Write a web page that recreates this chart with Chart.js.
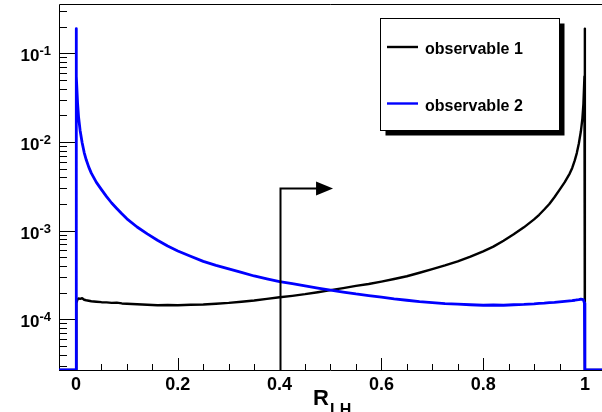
<!DOCTYPE html>
<html>
<head>
<meta charset="utf-8">
<script src="https://cdn.jsdelivr.net/npm/chart.js@4/dist/chart.umd.min.js"></script>
<style>
  html, body { margin: 0; padding: 0; background: #fff; }
</style>
</head>
<body>
<canvas id="chart" width="602" height="412"></canvas>
<script>
//-------------------- DATA --------------------
// bin centres in R_LH, finer near the edges where the distributions peak
const binCentres = [
  0.0005, 0.001, 0.003, 0.005, 0.008, 0.012, 0.016, 0.02, 0.025, 0.03,
  0.04, 0.05, 0.06, 0.07, 0.08, 0.09, 0.10, 0.12, 0.14, 0.16,
  0.18, 0.20, 0.225, 0.25, 0.275, 0.30, 0.325, 0.35, 0.375, 0.40,
  0.425, 0.45, 0.475, 0.50, 0.525, 0.55, 0.575, 0.60, 0.625, 0.65,
  0.675, 0.70, 0.725, 0.75, 0.775, 0.80, 0.82, 0.84, 0.86, 0.88,
  0.90, 0.91, 0.92, 0.93, 0.94, 0.95, 0.96, 0.97, 0.975, 0.98,
  0.984, 0.988, 0.992, 0.995, 0.997, 0.999, 0.9995
];

const observable1 = [
  1.45e-4, 1.52e-4, 1.68e-4, 1.72e-4, 1.70e-4, 1.73e-4, 1.66e-4, 1.64e-4, 1.62e-4, 1.60e-4,
  1.58e-4, 1.56e-4, 1.55e-4, 1.53e-4, 1.54e-4, 1.51e-4, 1.50e-4, 1.48e-4, 1.46e-4, 1.44e-4,
  1.45e-4, 1.44e-4, 1.46e-4, 1.47e-4, 1.50e-4, 1.53e-4, 1.58e-4, 1.63e-4, 1.70e-4, 1.77e-4,
  1.84e-4, 1.92e-4, 2.02e-4, 2.13e-4, 2.25e-4, 2.38e-4, 2.50e-4, 2.66e-4, 2.85e-4, 3.06e-4,
  3.35e-4, 3.68e-4, 4.05e-4, 4.50e-4, 5.10e-4, 5.85e-4, 6.6e-4, 7.7e-4, 9.1e-4, 1.09e-3,
  1.34e-3, 1.51e-3, 1.73e-3, 2.0e-3, 2.38e-3, 2.88e-3, 3.5e-3, 4.4e-3, 5.1e-3, 6.2e-3,
  7.5e-3, 9.6e-3, 1.32e-2, 1.85e-2, 2.7e-2, 5.5e-2, 0.19
];

const observable2 = [
  0.19, 5.5e-2, 2.75e-2, 1.9e-2, 1.35e-2, 9.8e-3, 7.6e-3, 6.3e-3, 5.2e-3, 4.45e-3,
  3.5e-3, 2.9e-3, 2.42e-3, 2.05e-3, 1.78e-3, 1.55e-3, 1.36e-3, 1.10e-3, 9.2e-4, 7.8e-4,
  6.7e-4, 5.9e-4, 5.15e-4, 4.5e-4, 4.05e-4, 3.7e-4, 3.38e-4, 3.08e-4, 2.86e-4, 2.66e-4,
  2.52e-4, 2.38e-4, 2.25e-4, 2.13e-4, 2.03e-4, 1.93e-4, 1.85e-4, 1.78e-4, 1.70e-4, 1.64e-4,
  1.58e-4, 1.54e-4, 1.50e-4, 1.48e-4, 1.46e-4, 1.44e-4, 1.45e-4, 1.44e-4, 1.46e-4, 1.47e-4,
  1.49e-4, 1.51e-4, 1.52e-4, 1.54e-4, 1.55e-4, 1.57e-4, 1.59e-4, 1.61e-4, 1.62e-4, 1.64e-4,
  1.66e-4, 1.67e-4, 1.69e-4, 1.68e-4, 1.66e-4, 1.52e-4, 1.45e-4
];

const seriesNames = ['observable 1', 'observable 2'];
const seriesColors = ['#000000', '#0000ff'];
const xTickLabels = ['0', '0.2', '0.4', '0.6', '0.8', '1'];
const yDecades = [-1, -2, -3, -4];

// cut on R_LH, the arrow points to the kept side
const cutValue = 0.4;
const arrowTopValue = 3.0e-3;
const arrowTipValue = 0.505;

// axis ranges
const xMin = -0.0335, xMax = 1.0335;
const yMin = 2.68e-5, yMax = 0.36;

//-------------------- SETUP --------------------
// histogram outline: empty bins sit on the axis floor, vertical edges at 0 and 1
function histPoints(values) {
  const pts = [{x: xMin, y: yMin}, {x: 0, y: yMin}, {x: 0, y: values[0]}];
  binCentres.forEach((c, i) => pts.push({x: c, y: values[i] > 0 ? values[i] : yMin}));
  pts.push({x: 1, y: values[values.length - 1]}, {x: 1, y: yMin}, {x: xMax, y: yMin});
  return pts;
}

const data = {
  datasets: [
    {label: seriesNames[0], data: histPoints(observable1), borderColor: seriesColors[0],
     borderWidth: 2.4, order: 1},
    {label: seriesNames[1], data: histPoints(observable2), borderColor: seriesColors[1],
     borderWidth: 2.8, order: 0}
  ]
};

const FONT = '"Liberation Sans", Arial, Helvetica, sans-serif';

// axes, frame and tick labels in the ROOT style (ticks drawn inside the frame)
const rootAxes = {
  id: 'rootAxes',
  beforeDatasetsDraw(chart) {
    const {ctx, chartArea: a, scales: {x, y}} = chart;
    ctx.save();
    ctx.strokeStyle = '#000';
    ctx.lineWidth = 1;
    ctx.beginPath();
    ctx.moveTo(a.left + 0.5, a.bottom + 0.5);
    ctx.lineTo(a.left + 0.5, a.top + 0.5);
    ctx.lineTo(a.right, a.top + 0.5);
    ctx.moveTo(a.left, a.bottom + 0.5);
    ctx.lineTo(a.right, a.bottom + 0.5);

    // y ticks: decades long, 2..9 short
    for (let e = -5; e <= 0; e++) {
      for (let k = 1; k <= 9; k++) {
        const v = k * Math.pow(10, e);
        if (v < yMin || v > yMax) continue;
        const py = Math.round(y.getPixelForValue(v)) + 0.5;
        ctx.moveTo(a.left, py);
        ctx.lineTo(a.left + (k === 1 ? 16 : 8), py);
      }
    }
    // x ticks every 0.05, long every 0.2
    for (let i = 0; i <= 20; i++) {
      const px = Math.round(x.getPixelForValue(i * 0.05)) + 0.5;
      ctx.moveTo(px, a.bottom);
      ctx.lineTo(px, a.bottom - (i % 4 === 0 ? 12 : 6));
    }
    ctx.stroke();

    ctx.fillStyle = '#000';
    ctx.textBaseline = 'alphabetic';

    // x tick labels
    ctx.font = 'bold 18px ' + FONT;
    ctx.textAlign = 'center';
    xTickLabels.forEach(t => {
      ctx.fillText(t, x.getPixelForValue(parseFloat(t)), a.bottom + 20);
    });

    // y tick labels as 10 with a raised exponent
    ctx.textAlign = 'left';
    yDecades.forEach(e => {
      const py = y.getPixelForValue(Math.pow(10, e));
      const exp = String(e);
      ctx.font = 'bold 13px ' + FONT;
      const ew = ctx.measureText(exp).width;
      ctx.font = 'bold 17px ' + FONT;
      const bw = ctx.measureText('10').width;
      const right = a.left - 8;
      ctx.fillText('10', right - ew - bw, py + 8);
      ctx.font = 'bold 13px ' + FONT;
      ctx.fillText(exp, right - ew, py + 2);
    });

    // axis title R_LH
    ctx.font = 'bold 22px ' + FONT;
    ctx.fillText('R', 313, 405);
    ctx.font = 'bold 16px ' + FONT;
    ctx.fillText('LH', 330, 415);
    ctx.restore();
  }
};

// cut arrow and legend box with shadow
const rootOverlay = {
  id: 'rootOverlay',
  afterDatasetsDraw(chart) {
    const {ctx, chartArea: a, scales: {x, y}} = chart;
    ctx.save();

    // arrow
    const cx = Math.round(x.getPixelForValue(cutValue)) + 0.5;
    const ty = Math.round(y.getPixelForValue(arrowTopValue)) + 0.5;
    const tipX = x.getPixelForValue(arrowTipValue);
    ctx.strokeStyle = '#000';
    ctx.fillStyle = '#000';
    ctx.lineWidth = 2;
    ctx.beginPath();
    ctx.moveTo(cx, a.bottom);
    ctx.lineTo(cx, ty);
    ctx.lineTo(tipX - 12, ty);
    ctx.stroke();
    ctx.beginPath();
    ctx.moveTo(tipX, ty);
    ctx.lineTo(tipX - 17, ty - 7);
    ctx.lineTo(tipX - 17, ty + 7);
    ctx.closePath();
    ctx.fill();

    // legend
    const bx = 380.5, by = 18.5, bw = 179, bh = 112;
    ctx.fillRect(bx + 5, by + 5, bw, bh);
    ctx.fillStyle = '#fff';
    ctx.fillRect(bx, by, bw, bh);
    ctx.lineWidth = 1;
    ctx.strokeStyle = '#000';
    ctx.strokeRect(bx, by, bw, bh);

    const rowsY = [47, 103.5];
    chart.data.datasets.forEach((ds, i) => {
      ctx.strokeStyle = ds.borderColor;
      ctx.lineWidth = 2.4;
      ctx.beginPath();
      ctx.moveTo(387, rowsY[i]);
      ctx.lineTo(418, rowsY[i]);
      ctx.stroke();
      ctx.fillStyle = '#000';
      ctx.font = 'bold 16px ' + FONT;
      ctx.textAlign = 'left';
      ctx.fillText(ds.label, 425, rowsY[i] + 7);
    });
    ctx.restore();
  }
};

//-------------------- CONFIG --------------------
const config = {
  type: 'line',
  data,
  options: {
    responsive: false,
    animation: false,
    devicePixelRatio: 1,
    layout: {padding: {left: 59, top: 4, right: 0, bottom: 42}},
    elements: {
      point: {radius: 0},
      line: {tension: 0, borderJoinStyle: 'round'}
    },
    scales: {
      x: {type: 'linear', min: xMin, max: xMax, display: false},
      y: {type: 'logarithmic', min: yMin, max: yMax, display: false}
    },
    plugins: {
      legend: {display: false},
      tooltip: {enabled: false}
    }
  },
  plugins: [rootAxes, rootOverlay]
};

//-------------------- RENDER --------------------
const myChart = new Chart(document.getElementById('chart'), config);
</script>
</body>
</html>
